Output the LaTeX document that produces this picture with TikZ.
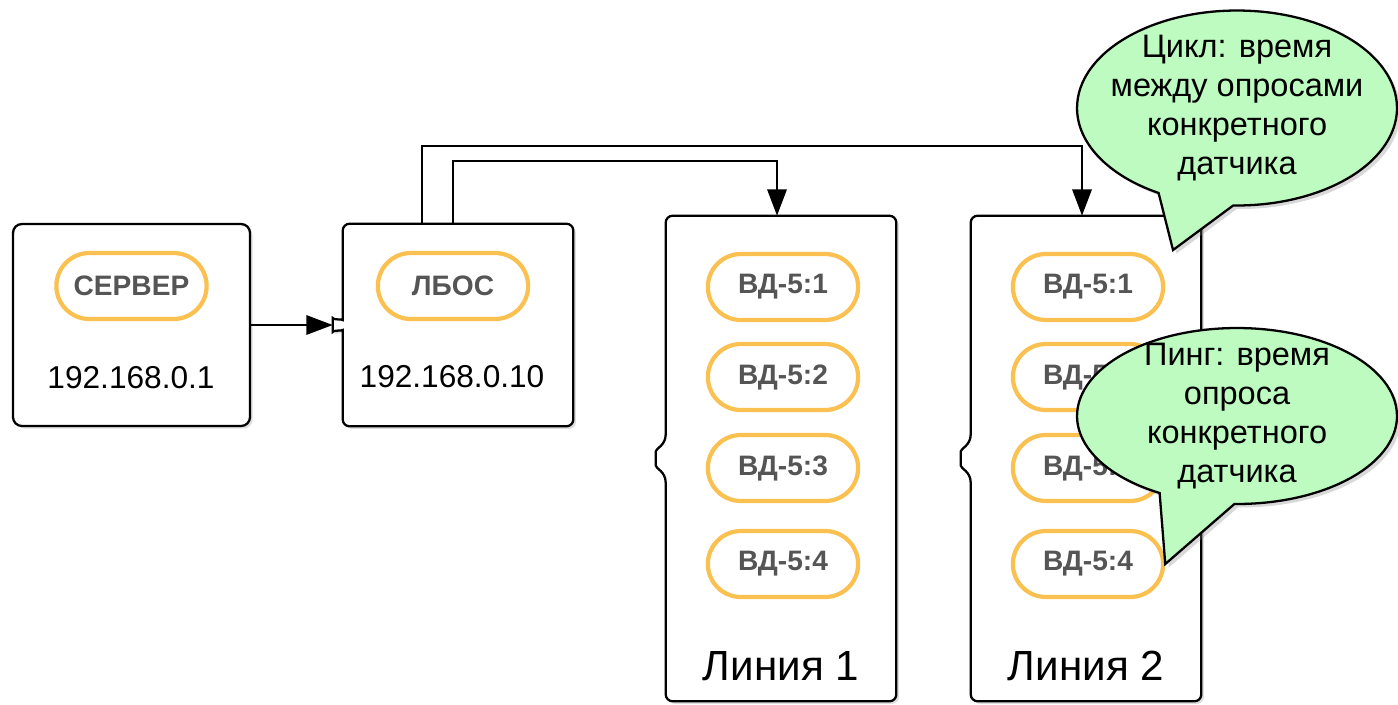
\documentclass[tikz,border=0pt]{standalone}
\usepackage{fontspec}
\setmainfont{Liberation Sans}
\usetikzlibrary{arrows.meta,shapes.misc,shapes.callouts,shadows}

\definecolor{pillline}{RGB}{250,192,80}
\definecolor{pilltext}{RGB}{85,85,85}
\definecolor{bubblefill}{RGB}{190,251,192}

\tikzset{
  boxline/.style={line width=1.3pt, draw=black, fill=white,
    drop shadow={shadow xshift=1.5pt, shadow yshift=-1.5pt, opacity=0.25}},
  area/.style={minimum width=4.6cm, inner sep=0pt},
  pill/.style={rounded rectangle, draw=pillline, line width=2.4pt, fill=white,
    minimum width=3.24cm, minimum height=1.32cm, text=pilltext,
    font=\bfseries\fontsize{16}{19}\selectfont},
  addr/.style={font=\fontsize{18}{21}\selectfont},
  linelabel/.style={font=\fontsize{24}{28}\selectfont},
  arr/.style={-{Triangle[length=15pt, width=11pt]}, line width=1.3pt},
  bubble/.style={ellipse callout, draw=black, line width=1.3pt, fill=bubblefill,
    align=center, inner xsep=-0.7cm, inner ysep=-0.3cm, callout pointer arc=28,
    font=\fontsize{18.5}{22.3}\selectfont,
    drop shadow={shadow xshift=2pt, shadow yshift=-2pt, opacity=0.3}}
}

\begin{document}
\begin{tikzpicture}[x=0.02cm, y=-0.02cm]
\useasboundingbox (0,0) rectangle (1398,704);

% server
\node[boxline, rounded corners=5pt, minimum width=4.74cm, minimum height=4.04cm] (server) at (131.5,325) {};
\node[pill] (serverpill) at (131.5,286) {СЕРВЕР};
\node[addr] (serverip) at (131,378) {192.168.0.1};

% lbos
\node[area, minimum height=4.04cm] (lbos) at (458,325) {};
\coordinate (lbostip) at ([xshift=-0.2cm]lbos.west);
\draw[boxline, rounded corners=4pt] ([yshift=0.24cm]lbos.west) -- (lbos.north west) -- (lbos.north east)
  -- (lbos.south east) -- (lbos.south west) -- ([yshift=-0.24cm]lbos.west)
  .. controls +(0,0.12cm) and +(0,-0.1cm) .. (lbostip)
  .. controls +(0,0.1cm) and +(0,-0.12cm) .. ([yshift=0.24cm]lbos.west) -- cycle;
\node[pill] (lbospill) at (453,286) {ЛБОС};
\node[addr] (lbosip) at (452,377) {192.168.0.10};

% lines
\foreach \n/\x in {1/781, 2/1086} {
  \node[area, minimum height=9.7cm] (line\n) at (\x,458.5) {};
  \coordinate (line\n tip) at ([xshift=-0.2cm]line\n.west);
  \draw[boxline, rounded corners=4pt] ([yshift=0.62cm]line\n.west) -- (line\n.north west) -- (line\n.north east)
    -- (line\n.south east) -- (line\n.south west) -- ([yshift=-0.62cm]line\n.west)
    .. controls +(0,0.36cm) and +(0,-0.2cm) .. (line\n tip)
    .. controls +(0,0.2cm) and +(0,-0.36cm) .. ([yshift=0.62cm]line\n.west) -- cycle;
  \foreach \i/\y in {1/287, 2/377, 3/468, 4/564}
    \node[pill] (l\n s\i) at (\x+2,\y) {ВД-5:\i};
  \node[linelabel] (line\n label) at (\x,666) {Линия \n};
}

\draw[arr] (server.east) -- (lbostip);
\draw[arr] ([xshift=-0.72cm]lbos.north) -- ++(0,-78) -| ([xshift=-0.08cm]line2.north);
\draw[arr] ([xshift=-0.1cm]lbos.north) -- ++(0,-63) -| ([xshift=-0.08cm]line1.north);

% notes
\node[bubble, minimum width=6.4cm, minimum height=3.9cm, callout absolute pointer={(1173,250)}] (cyclenote)
  at (1237,108) {Цикл: время\\между опросами\\конкретного\\датчика};
\node[bubble, minimum width=6.4cm, minimum height=3.52cm, callout absolute pointer={(l2s4.east)}] (pingnote)
  at (1237,416) {Пинг: время\\опроса\\конкретного\\датчика};

\end{tikzpicture}
\end{document}
